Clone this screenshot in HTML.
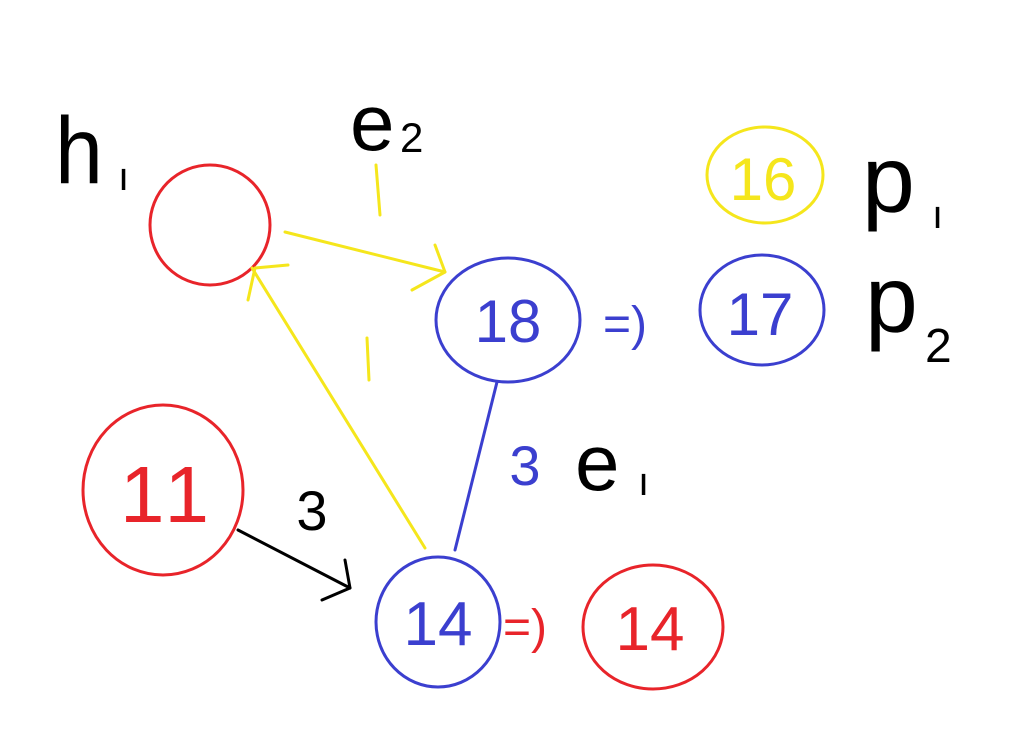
<!DOCTYPE html>
<html><head><meta charset="utf-8"><style>
html,body{margin:0;padding:0;background:#fff;}
svg{display:block}
text{font-family:"Liberation Sans",sans-serif;font-weight:normal}
</style></head><body>
<svg width="1035" height="734" viewBox="0 0 1035 734" fill="none" stroke-linecap="round" stroke-linejoin="round">
<rect width="1035" height="734" fill="#fff" stroke="none"/>
<text x="55" y="183" font-size="95" fill="#000" textLength="48" lengthAdjust="spacingAndGlyphs">h</text>
<text x="118" y="190" font-size="40" fill="#000">ı</text>
<text x="350" y="150" font-size="80" fill="#000">e</text>
<text x="400" y="152" font-size="42" fill="#000">2</text>
<text x="575" y="490" font-size="80" fill="#000">e</text>
<text x="638" y="495" font-size="40" fill="#000">ı</text>
<text x="862" y="212" font-size="95" fill="#000">p</text>
<text x="932" y="228" font-size="40" fill="#000">ı</text>
<text x="865" y="332" font-size="95" fill="#000">p</text>
<text x="925" y="362" font-size="48" fill="#000">2</text>

<ellipse cx="210" cy="225" rx="60" ry="60" stroke="#e8242a" stroke-width="3"/>
<line x1="285" y1="232" x2="445" y2="272" stroke="#f5e61c" stroke-width="3"/>
<polyline points="435,245 445,272 412,290" stroke="#f5e61c" stroke-width="3"/>
<line x1="376" y1="165" x2="380" y2="215" stroke="#f5e61c" stroke-width="3"/>
<line x1="425" y1="548" x2="252" y2="268" stroke="#f5e61c" stroke-width="3"/>
<polyline points="288,265 255,268 248,300" stroke="#f5e61c" stroke-width="3"/>
<line x1="367" y1="338" x2="369" y2="380" stroke="#f5e61c" stroke-width="3"/>

<ellipse cx="508" cy="320" rx="72" ry="62" stroke="#3b3fcf" stroke-width="3"/>
<text x="508" y="342" font-size="60" fill="#3b3fcf" text-anchor="middle">18</text>
<text x="625" y="340" font-size="48" fill="#3b3fcf" text-anchor="middle">=)</text>
<ellipse cx="762" cy="310" rx="62" ry="55" stroke="#3b3fcf" stroke-width="3"/>
<text x="760" y="335" font-size="60" fill="#3b3fcf" text-anchor="middle">17</text>
<ellipse cx="765" cy="175" rx="58" ry="48" stroke="#f5e61c" stroke-width="3"/>
<text x="763" y="200" font-size="60" fill="#f5e61c" text-anchor="middle">16</text>

<line x1="497" y1="382" x2="455" y2="550" stroke="#3b3fcf" stroke-width="3"/>
<text x="525" y="485" font-size="56" fill="#3b3fcf" text-anchor="middle">3</text>

<ellipse cx="163" cy="490" rx="80" ry="85" stroke="#e8242a" stroke-width="3"/>
<text x="120" y="522" font-size="80" fill="#e8242a" letter-spacing="6">11</text>
<text x="312" y="530" font-size="56" fill="#000" text-anchor="middle">3</text>
<line x1="238" y1="530" x2="350" y2="588" stroke="#000" stroke-width="3"/>
<polyline points="345,560 350,588 322,600" stroke="#000" stroke-width="3"/>

<ellipse cx="438" cy="622" rx="62" ry="65" stroke="#3b3fcf" stroke-width="3"/>
<text x="438" y="645" font-size="62" fill="#3b3fcf" text-anchor="middle">14</text>
<text x="525" y="643" font-size="48" fill="#e8242a" text-anchor="middle">=)</text>
<ellipse cx="653" cy="627" rx="70" ry="62" stroke="#e8242a" stroke-width="3"/>
<text x="650" y="650" font-size="62" fill="#e8242a" text-anchor="middle">14</text>
</svg>
</body></html>
